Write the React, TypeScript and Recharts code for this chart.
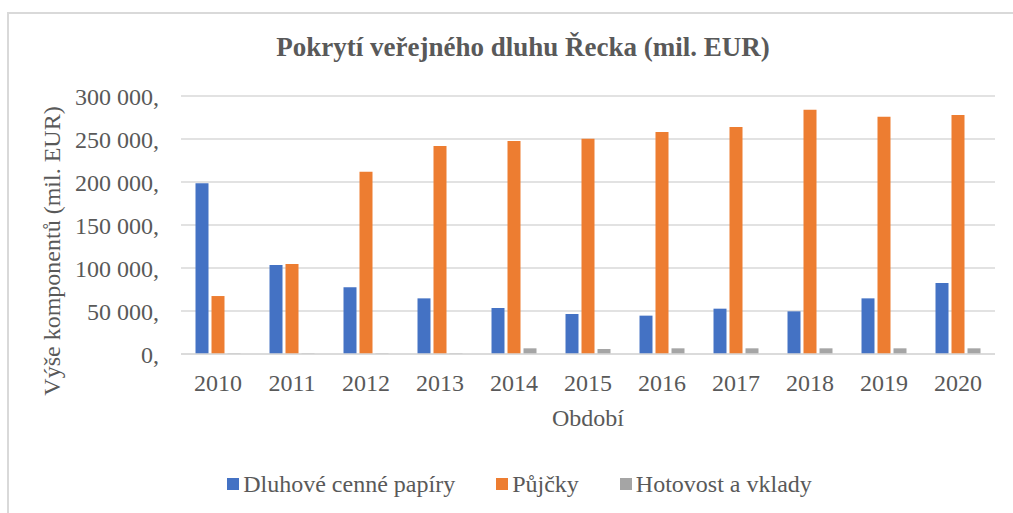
import React from 'react';
import { BarChart, Bar, XAxis, YAxis, CartesianGrid, Legend, Label } from 'recharts';

const years = ['2010', '2011', '2012', '2013', '2014', '2015', '2016', '2017', '2018', '2019', '2020'];
const dluhoveCennePapiry = [198500, 103500, 77500, 64700, 53500, 46500, 44600, 52700, 49600, 64700, 82600];
const pujcky = [67400, 104700, 212000, 241900, 247700, 250400, 258000, 264000, 284000, 276000, 278000];
const hotovostAVklady = [700, 700, 700, 700, 6600, 5800, 6600, 6600, 6600, 6600, 6600];
const yTicks = [0, 50000, 100000, 150000, 200000, 250000, 300000];
const yTickLabels = ['0,', '50 000,', '100 000,', '150 000,', '200 000,', '250 000,', '300 000,'];

const seriesNames = ['Dluhové cenné papíry', 'Půjčky', 'Hotovost a vklady'];
const seriesColors = ['#4472C4', '#ED7D31', '#A5A5A5'];

const data = years.map((y, i) => ({
  year: y,
  a: dluhoveCennePapiry[i],
  b: pujcky[i],
  c: hotovostAVklady[i],
}));

const FONT = '"Liberation Serif", "Times New Roman", serif';
const TEXT = '#595959';
const GRID = '#D9D9D9';

const renderLegend = (props: any) => {
  const payload = [...(props.payload || [])].sort(
    (p: any, q: any) => seriesNames.indexOf(p.value) - seriesNames.indexOf(q.value)
  );
  return (
    <div style={{ display: 'flex', justifyContent: 'center', alignItems: 'center', fontFamily: FONT, fontSize: 24, color: TEXT, lineHeight: '26px' }}>
      {payload.map((p: any, i: number) => (
        <div key={i} style={{ display: 'flex', alignItems: 'center', marginLeft: i === 0 ? 0 : 41 }}>
          <span style={{ display: 'inline-block', width: 12, height: 12, background: p.color, marginRight: 4 }} />
          <span>{p.value}</span>
        </div>
      ))}
    </div>
  );
};

export default function App() {
  return (
    <div style={{ position: 'absolute', left: 0, top: 0, width: 1013, height: 513, overflow: 'hidden', background: '#fff' }}>
      <div style={{ position: 'absolute', left: 7, top: 12, width: 1006, height: 501, borderTop: `2px solid ${GRID}`, borderLeft: `2px solid ${GRID}`, boxSizing: 'border-box' }} />
      <div style={{ position: 'absolute', left: 0, top: 34, width: 1046, textAlign: 'center', fontFamily: FONT, fontWeight: 'bold', fontSize: 27, lineHeight: '27px', color: TEXT }}>
        Pokrytí veřejného dluhu Řecka (mil. EUR)
      </div>
      <div style={{ position: 'absolute', left: 0, top: 0 }}>
        <BarChart width={1013} height={513} data={data} margin={{ top: 96, right: 18, bottom: 79, left: 61 }} barCategoryGap={14.5} barGap={3}>
          <CartesianGrid vertical={false} stroke={GRID} strokeWidth={1.5} />
          <XAxis
            dataKey="year"
            height={80}
            tickSize={0}
            tickMargin={20}
            tickLine={false}
            axisLine={{ stroke: GRID, strokeWidth: 1.5 }}
            tick={{ fill: TEXT, fontSize: 24, fontFamily: FONT }}
          >
            <Label value="Období" position="insideBottom" offset={8} style={{ fill: TEXT, fontSize: 24, fontFamily: FONT }} />
          </XAxis>
          <YAxis
            width={120}
            domain={[0, 300000]}
            ticks={yTicks}
            tickFormatter={(v: number) => yTickLabels[yTicks.indexOf(v)]}
            tickSize={0}
            tickMargin={22}
            tickLine={false}
            axisLine={false}
            tick={{ fill: TEXT, fontSize: 24, fontFamily: FONT }}
          >
            <Label
              content={(props: any) => {
                const vb = props.viewBox || { x: 61, y: 96, width: 120, height: 258 };
                const cx = vb.x - 9;
                const cy = vb.y + vb.height / 2 + 26;
                return (
                  <text x={cx} y={cy} transform={`rotate(-90 ${cx} ${cy})`} textAnchor="middle" dominantBaseline="central" fill={TEXT} fontSize={24} fontFamily={FONT}>
                    Výše komponentů (mil. EUR)
                  </text>
                );
              }}
            />
          </YAxis>
          <Legend
            layout="horizontal"
            verticalAlign="middle"
            align="center"
            content={renderLegend}
            wrapperStyle={{ top: 471, left: 0, width: 1039 }}
          />
          <Bar dataKey="a" name={seriesNames[0]} fill={seriesColors[0]} isAnimationActive={false} />
          <Bar dataKey="b" name={seriesNames[1]} fill={seriesColors[1]} isAnimationActive={false} />
          <Bar dataKey="c" name={seriesNames[2]} fill={seriesColors[2]} isAnimationActive={false} />
        </BarChart>
      </div>
    </div>
  );
}
